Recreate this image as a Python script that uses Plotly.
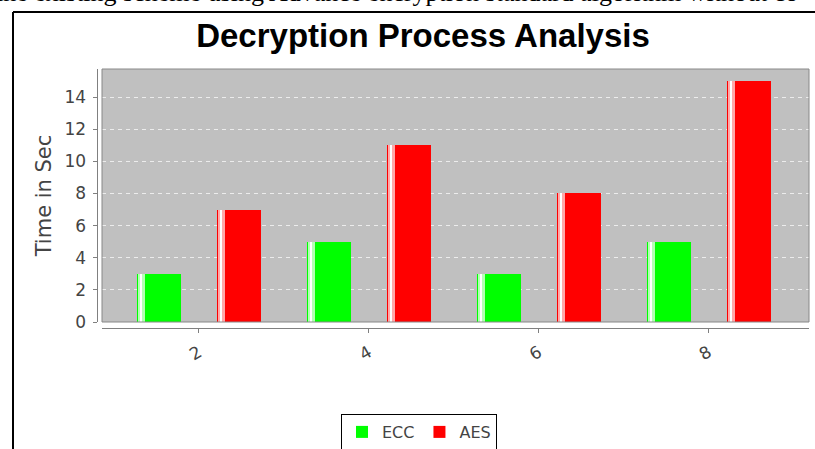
import plotly.graph_objects as go

# Data: decryption time (seconds) per input size
categories = ["2", "4", "6", "8"]
ecc_times = [3, 5, 3, 5]
aes_times = [7, 11, 8, 15]

W, H = 815, 449

# Plot frame (pixels)
PLOT_L, PLOT_R, PLOT_T, PLOT_B = 102, 809, 69, 322
X_RANGE = [-0.57, 3.59]
Y_RANGE = [0, 15.75]
UNIT_PX = (PLOT_R - PLOT_L) / (X_RANGE[1] - X_RANGE[0])

BAR_W_PX = 44
ECC_LEFT_PX = -62
AES_LEFT_PX = 18

GREEN = "#00ff00"
RED = "#ff0000"

x_idx = list(range(len(categories)))


def px(v):
    return v / UNIT_PX


def bar_set(name, values, left_px, color, light):
    return [
        go.Bar(
            x=x_idx, y=values, name=name, marker=dict(color=color, line=dict(width=0)),
            offset=px(left_px), width=px(BAR_W_PX), showlegend=True, hoverinfo="y",
        ),
        go.Bar(
            x=x_idx, y=values, marker=dict(color=light, line=dict(width=0)),
            offset=px(left_px + 0.8), width=px(7), showlegend=False, hoverinfo="skip",
        ),
        go.Bar(
            x=x_idx, y=values, marker=dict(color="#ffffff", line=dict(width=0)),
            offset=px(left_px + 3), width=px(2.6), showlegend=False, hoverinfo="skip",
        ),
    ]


fig = go.Figure()
for t in bar_set("ECC", ecc_times, ECC_LEFT_PX, GREEN, "#b4ffb4"):
    fig.add_trace(t)
for t in bar_set("AES", aes_times, AES_LEFT_PX, RED, "#ffa8a8"):
    fig.add_trace(t)

tick_font = dict(family="DejaVu Sans", size=17, color="#444444")

fig.update_layout(
    width=W, height=H,
    margin=dict(l=0, r=0, t=0, b=0, autoexpand=False),
    paper_bgcolor="#ffffff",
    plot_bgcolor="#c0c0c0",
    barmode="overlay",
    bargap=0,
    showlegend=True,
    title=dict(
        text="<b>Decryption Process Analysis</b>",
        font=dict(family="Liberation Sans", size=33, color="#000000"),
        x=423 / W, xanchor="center", xref="paper",
        y=1 - 35 / H, yanchor="middle", yref="paper",
    ),
    xaxis=dict(
        domain=[PLOT_L / W, PLOT_R / W],
        range=X_RANGE,
        anchor="free", position=1 - 328 / H,
        tickmode="array", tickvals=x_idx, ticktext=categories,
        tickangle=-30,
        ticks="outside", ticklen=4, tickcolor="#808080", tickwidth=1,
        ticklabelstandoff=3,
        showline=True, linecolor="#808080", linewidth=1,
        showgrid=False, zeroline=False,
        tickfont=tick_font,
        automargin=False,
        fixedrange=True,
    ),
    yaxis=dict(
        domain=[1 - PLOT_B / H, 1 - PLOT_T / H],
        range=Y_RANGE,
        anchor="free", position=96.5 / W,
        tickmode="linear", tick0=0, dtick=2,
        ticks="outside", ticklen=4, tickcolor="#808080", tickwidth=1,
        ticklabelstandoff=3,
        showline=True, linecolor="#808080", linewidth=1,
        showgrid=True, gridcolor="#ececec", gridwidth=1, griddash="4px,4px",
        zeroline=False,
        tickfont=tick_font,
        title=dict(text="Time in Sec", font=dict(family="DejaVu Sans", size=21, color="#444444"), standoff=6),
        automargin=False,
        fixedrange=True,
    ),
    legend=dict(
        orientation="h",
        xref="container", yref="container",
        x=419 / W, xanchor="center",
        y=1 - 414 / H, yanchor="top",
        bordercolor="#000000", borderwidth=1,
        bgcolor="#ffffff",
        font=dict(family="DejaVu Sans", size=16, color="#444444"),
        itemwidth=30,
        traceorder="normal",
    ),
    shapes=[
        # plot-area outline
        dict(type="rect", xref="x domain", yref="y domain", x0=0, x1=1, y0=0, y1=1,
             line=dict(color="#888888", width=1), layer="above"),
        # outer chart frame (top and left edges)
        dict(type="line", xref="paper", yref="paper", x0=13 / W, x1=1, y0=1 - 12 / H, y1=1 - 12 / H,
             line=dict(color="#000000", width=2)),
        dict(type="line", xref="paper", yref="paper", x0=13 / W, x1=13 / W, y0=0, y1=1 - 12 / H,
             line=dict(color="#000000", width=2)),
    ],
    annotations=[
        dict(
            text="the existing scheme using Advance encryption standard algorithm without co",
            xref="paper", yref="paper", x=-6 / W, xanchor="left",
            y=1 + 8 / H, yanchor="middle", showarrow=False,
            font=dict(family="Liberation Serif", size=26, color="#000000"),
        ),
    ],
)

fig.write_html("out.html")
